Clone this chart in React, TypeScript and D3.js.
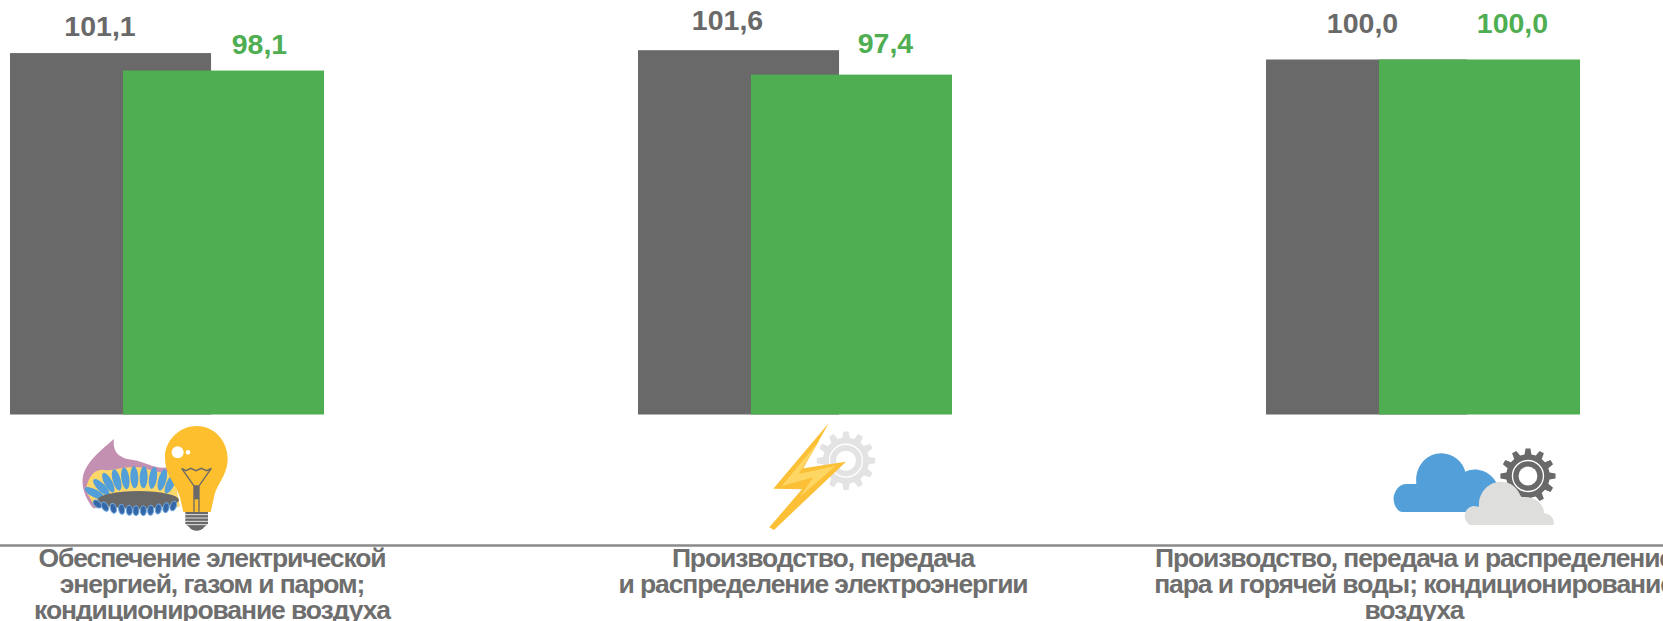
import * as d3 from "d3";

const categories = ["electricity-gas", "electricity", "steam"];
const seriesNames = ["previous", "current"];
const previousValues = [101.1, 101.6, 100.0];
const currentValues = [98.1, 97.4, 100.0];
const categoryLines = [
  ["Обеспечение электрической", "энергией, газом и паром;", "кондиционирование воздуха"],
  ["Производство, передача", "и распределение электроэнергии"],
  ["Производство, передача и распределение", "пара и горячей воды; кондиционирование", "воздуха"],
];
const labelCentres = [212, 823, 1414];
// value labels were hand placed in the original, nudges per series and group
const labelNudgeX = [
  [-10.5, -11, -4],
  [36, 34, 33],
];
const labelNudgeY = [
  [-2, -5.5, -11.5],
  [-2, -6.5, -11.5],
];

const WIDTH = 1663;
const HEIGHT = 621;
const GRAY = "#696969";
const GREEN = "#4fae52";
const TEXT_GRAY = "#6e6e6e";
const FONT = "'Liberation Sans', Arial, sans-serif";

const groupX = d3.scalePoint<string>().domain(categories).range([10, 1266]);
const seriesX = d3.scaleBand<string>().domain(seriesNames).range([0, 314]).paddingInner(-0.78);
const y = d3.scaleLinear().domain([39, 110]).range([414.5, 1.3]);
const fmt = (v: number) => v.toFixed(1).replace(".", ",");

// gear outline, all in the icon's own zoomed coordinates
function gearPath(cx: number, cy: number, outer: number, root: number, teeth: number) {
  const step = (Math.PI * 2) / teeth;
  const pts: [number, number][] = [];
  for (let i = 0; i < teeth; i++) {
    const a = i * step - Math.PI / 2;
    const list: [number, number][] = [
      [a - step * 0.3, root],
      [a - step * 0.17, outer],
      [a + step * 0.17, outer],
      [a + step * 0.3, root],
    ];
    list.forEach(([t, r]) => pts.push([cx + Math.cos(t) * r, cy + Math.sin(t) * r]));
  }
  return d3.line()(pts) + "Z";
}

function Gear({ cx, cy, r, color }: { cx: number; cy: number; r: number; color: string }) {
  return (
    <g>
      <path d={gearPath(cx, cy, r, r * 0.79, 12)} fill={color} />
      <circle cx={cx} cy={cy} r={r * 0.56} fill="none" stroke="#fff" strokeWidth={4} />
      <circle cx={cx} cy={cy} r={r * 0.34} fill="#fff" />
    </g>
  );
}

const upperPetals = [
  [284, 280, -62], [304, 262, -45], [325, 248, -28], [350, 240, -16], [376, 235, -8], [403, 232, -3],
  [431, 232, 2], [459, 234, 8], [487, 240, 15], [512, 250, 26],
];
const lowerPetals = [
  [292, 312, -50], [315, 320, -30], [340, 325, -15], [365, 328, -8], [388, 331, -3],
  [408, 332, 0], [430, 332, 0], [452, 331, 4], [475, 327, 8], [498, 323, 12], [520, 318, 20],
];

function BurnerIcon() {
  return (
    <g transform="translate(0,400) scale(0.3333)">
      <path
        d="M342,117 C338,150 350,175 400,180 C440,186 470,212 510,200 L535,310 L280,325 C255,295 245,262 248,235 C255,185 310,145 342,117Z"
        fill="#c490b2"
      />
      <path
        d="M258,272 C262,232 285,205 312,210 C345,214 375,195 430,203 C460,214 490,222 520,214 L540,320 L285,322Z"
        fill="#fcd76a"
      />
      {upperPetals.map(([px, py, rot]) => (
        <ellipse key={px} cx={px} cy={py} rx={12} ry={33} fill="#539fd9" transform={`rotate(${rot} ${px} ${py})`} />
      ))}
      <ellipse cx={415} cy={300} rx={122} ry={27} fill={GRAY} />
      {lowerPetals.map(([px, py, rot]) => (
        <ellipse key={px} cx={px} cy={py} rx={9} ry={15} fill="#3567a8" stroke="#6fa8dc" strokeWidth={3} transform={`rotate(${rot} ${px} ${py})`} />
      ))}
      <path
        d="M590,78 C645,78 683,125 683,175 C683,228 650,250 642,292 L632,336 L550,336 L540,292 C528,250 495,228 495,170 C495,125 535,78 590,78Z"
        fill="#fdbf2d"
      />
      <circle cx={533} cy={157} r={18} fill="#fff" />
      <circle cx={564} cy={157} r={7} fill="#fff" />
      <path
        d="M545,205 L558,212 L572,205 L588,212 L604,205 L620,212 L634,205 L597,258 L597,335 M545,205 L582,258 L582,335 M582,258 L597,258"
        fill="none"
        stroke={GRAY}
        strokeWidth={4}
      />
      <rect x={582} y={258} width={15} height={40} fill={GRAY} />
      <path d="M556,336 L624,336 L624,372 L612,382 C605,396 575,396 568,382 L556,372Z" fill={GRAY} />
      {[344, 354, 364, 374].map((ly) => (
        <line key={ly} x1={552} x2={628} y1={ly} y2={ly} stroke="#fff" strokeWidth={2.5} />
      ))}
    </g>
  );
}

function BoltIcon() {
  return (
    <g transform="translate(600,400) scale(0.3333)">
      <Gear cx={738} cy={182} r={88} color="#e3e3e3" />
      <path d="M687,68 L610,205 L738,185 L522,390 L508,382 L606,268 L520,266Z" fill="#fcc036" />
      <path d="M660,120 L596,222 L706,198 L600,290 L640,232 L545,258Z" fill="#fdd664" />
    </g>
  );
}

function CloudIcon() {
  return (
    <g transform="translate(1243,400) scale(0.3333)">
      <Gear cx={855} cy={228} r={83} color={GRAY} />
      <path
        d="M480,336 C460,336 450,310 452,290 C456,270 470,252 490,252 L520,252 C515,200 550,160 595,160 C630,160 660,185 667,215 C710,195 760,225 768,270 L768,336Z"
        fill="#539fd9"
      />
      <path
        d="M680,375 C658,360 660,325 690,318 L708,320 C705,280 735,245 775,245 C805,245 825,265 835,292 C870,285 905,310 903,340 C925,340 935,360 932,375Z"
        fill="#dededc"
      />
    </g>
  );
}

export default function App() {
  const base = y(39);
  const series = [previousValues, currentValues];
  const colors = [GRAY, GREEN];
  return (
    <svg
      width={WIDTH}
      height={HEIGHT}
      viewBox={`0 0 ${WIDTH} ${HEIGHT}`}
      style={{ position: "absolute", left: 0, top: 0, fontFamily: FONT }}
    >
      {categories.map((c, i) => (
        <g key={c}>
          {seriesNames.map((s, j) => {
            const x0 = groupX(c)! + seriesX(s)!;
            const top = y(series[j][i]);
            return (
              <rect key={s} x={x0} y={top} width={seriesX.bandwidth()} height={base - top} fill={colors[j]} />
            );
          })}
          {seriesNames.map((s, j) => {
            const x0 = groupX(c)! + seriesX(s)!;
            return (
              <text
                key={s}
                x={x0 + seriesX.bandwidth() / 2 + labelNudgeX[j][i]}
                y={y(series[j][i]) - 15 + labelNudgeY[j][i]}
                textAnchor="middle"
                fontSize={28.5}
                fontWeight="bold"
                fill={colors[j]}
              >
                {fmt(series[j][i])}
              </text>
            );
          })}
          {categoryLines[i].map((line, k) => (
            <text
              key={k}
              x={labelCentres[i]}
              y={567 + k * 25.8}
              textAnchor="middle"
              fontSize={26.5}
              fontWeight="bold"
              letterSpacing={-1.1}
              fill={TEXT_GRAY}
            >
              {line}
            </text>
          ))}
        </g>
      ))}
      <BurnerIcon />
      <BoltIcon />
      <CloudIcon />
      <line x1={0} x2={WIDTH} y1={545.5} y2={545.5} stroke="#8a8a8a" strokeWidth={2.5} />
    </svg>
  );
}
